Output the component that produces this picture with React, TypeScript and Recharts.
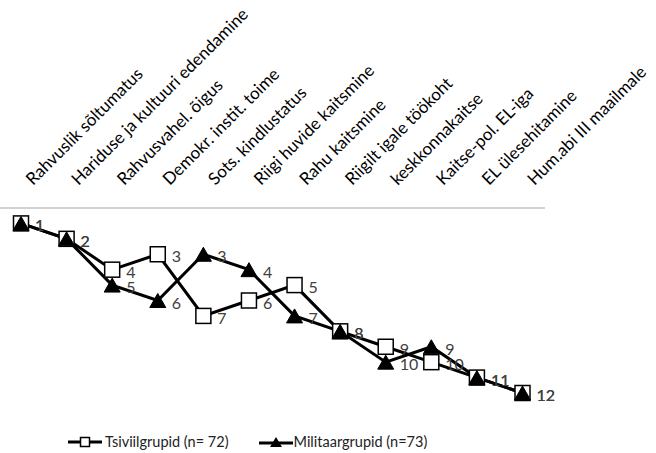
import React from "react";
import { LineChart, Line, XAxis, YAxis, Legend, LabelList } from "recharts";

const categories = [
  "Rahvuslik sõltumatus",
  "Hariduse ja kultuuri edendamine",
  "Rahvusvahel. õigus",
  "Demokr. instit. toime",
  "Sots. kindlustatus",
  "Riigi huvide kaitsmine",
  "Rahu kaitsmine",
  "Riigilt igale töökoht",
  "keskkonnakaitse",
  "Kaitse-pol. EL-iga",
  "EL ülesehitamine",
  "Hum.abi III maailmale",
];
const tsiviil = [1, 2, 4, 3, 7, 6, 5, 8, 9, 10, 11, 12];
const militaar = [1, 2, 5, 6, 3, 4, 7, 8, 10, 9, 11, 12];
const seriesNames = ["Tsiviilgrupid (n= 72)", "Militaargrupid (n=73)"];
const yDomain = [0, 12];

const data = categories.map((c, i) => ({ cat: c, tsiviil: tsiviil[i], militaar: militaar[i] }));

const FONT = "Lato, 'Open Sans', sans-serif";

const AngledTick = (props: any) => {
  const { x, payload } = props;
  return (
    <text
      transform={`translate(${x + 12},186) rotate(-45)`}
      textAnchor="start"
      fontFamily={FONT}
      fontSize={17}
      fill="#000"
    >
      {payload.value}
    </text>
  );
};

const SquareDot = (props: any) => {
  const { cx, cy } = props;
  if (cx == null || cy == null) return null;
  return <rect x={cx - 7.5} y={cy - 7.5} width={15} height={15} fill="#fff" stroke="#000" strokeWidth={1.5} />;
};

const TriangleDot = (props: any) => {
  const { cx, cy } = props;
  if (cx == null || cy == null) return null;
  return (
    <polygon
      points={`${cx},${cy - 7} ${cx + 8},${cy + 7} ${cx - 8},${cy + 7}`}
      fill="#000"
      stroke="#000"
      strokeWidth={1}
    />
  );
};

const DataLabel = (props: any) => {
  const { x, y, value } = props;
  return (
    <text x={x + 14} y={y + 8} fontFamily={FONT} fontSize={16} fill="#404040" textAnchor="start">
      {value}
    </text>
  );
};

const LegendContent = () => (
  <div
    style={{
      display: "flex",
      alignItems: "center",
      fontFamily: FONT,
      fontSize: 14.5,
      color: "#222",
      whiteSpace: "nowrap",
    }}
  >
    <svg width={34} height={16} style={{ marginRight: 3 }}>
      <line x1={0} y1={8} x2={34} y2={8} stroke="#000" strokeWidth={3} />
      <rect x={12.5} y={3.5} width={9} height={9} fill="#fff" stroke="#000" strokeWidth={1.5} />
    </svg>
    <span style={{ marginRight: 30 }}>{seriesNames[0]}</span>
    <svg width={34} height={16} style={{ marginRight: 1 }}>
      <line x1={0} y1={9} x2={34} y2={9} stroke="#000" strokeWidth={3} />
      <polygon points="17,3 23,13 11,13" fill="#000" />
    </svg>
    <span>{seriesNames[1]}</span>
  </div>
);

export default function App() {
  return (
    <div style={{ position: "absolute", left: 0, top: 0, width: 656, height: 453, background: "#fff" }}>
      <LineChart width={656} height={453} data={data} margin={{ top: 0, right: 111, bottom: 60, left: 0 }}>
        <XAxis
          dataKey="cat"
          orientation="top"
          height={208}
          interval={0}
          padding={{ left: 21, right: 22.5 }}
          tickLine={false}
          axisLine={{ stroke: "#a6a6a6", strokeWidth: 1.2 }}
          tick={<AngledTick />}
        />
        <YAxis hide reversed domain={yDomain} type="number" />
        <Legend
          layout="horizontal"
          verticalAlign="middle"
          align="center"
          wrapperStyle={{ position: "absolute", top: 433, left: 68, width: "auto" }}
          content={<LegendContent />}
        />
        <Line
          dataKey="tsiviil"
          stroke="#000"
          strokeWidth={3}
          dot={<SquareDot />}
          activeDot={false}
          isAnimationActive={false}
        >
          <LabelList dataKey="tsiviil" content={<DataLabel />} />
        </Line>
        <Line
          dataKey="militaar"
          stroke="#000"
          strokeWidth={3}
          dot={<TriangleDot />}
          activeDot={false}
          isAnimationActive={false}
        >
          <LabelList dataKey="militaar" content={<DataLabel />} />
        </Line>
      </LineChart>
    </div>
  );
}
